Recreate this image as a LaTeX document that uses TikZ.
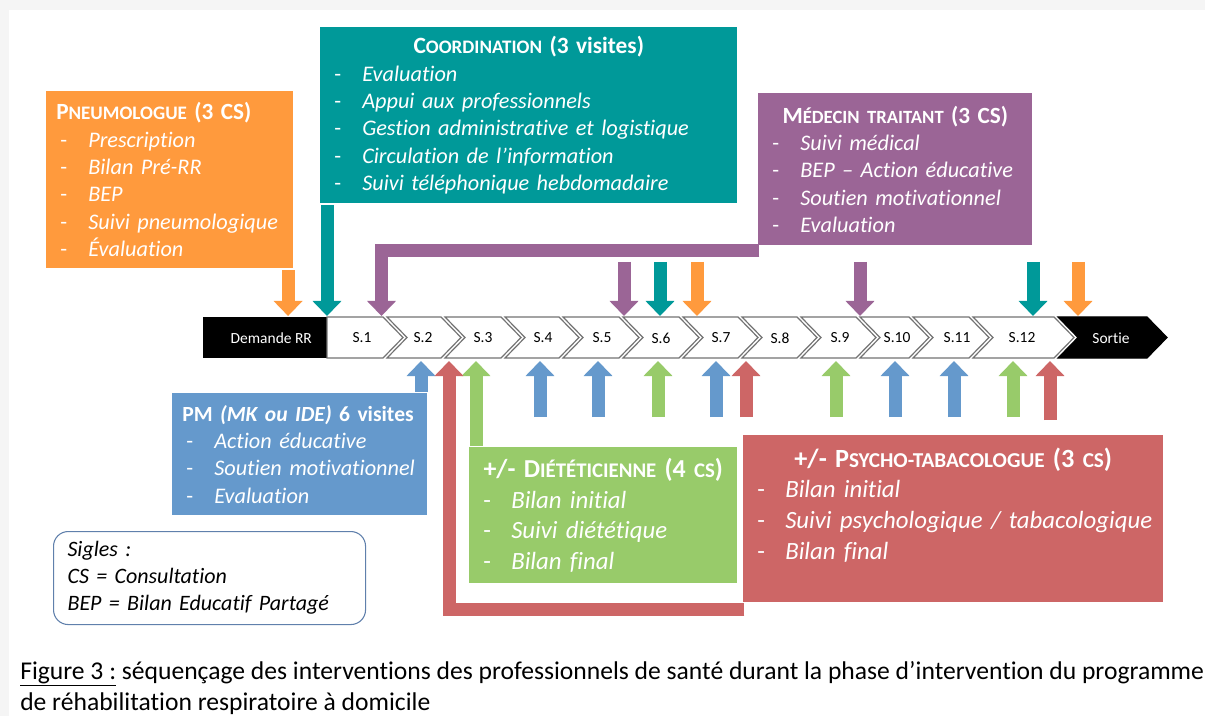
\documentclass[tikz,border=0pt]{standalone}
\usepackage{fontspec}
\setmainfont{Carlito}[Ligatures=NoCommon]
\usetikzlibrary{arrows.meta}

\definecolor{orng}{RGB}{255,154,61}
\definecolor{tealc}{RGB}{0,153,153}
\definecolor{mauve}{RGB}{155,101,150}
\definecolor{bleu}{RGB}{101,153,204}
\definecolor{vert}{RGB}{152,203,106}
\definecolor{rouge}{RGB}{205,102,102}
\definecolor{fond}{RGB}{245,245,245}
\definecolor{cadre}{RGB}{96,128,172}

\newcommand{\itm}{\makebox[24pt][l]{\hspace{3pt}-}}
\newcommand{\psc}[3][13]{#2{\fontsize{#1}{12}\selectfont#3}}

\begin{document}
\begin{tikzpicture}[x=0.75pt,y=0.75pt,yscale=-1,xscale=1,
  box/.style={anchor=north west, inner xsep=7.5pt, inner ysep=0pt, align=left, text=white, font=\fontsize{16.7}{20.5}\selectfont},
  arr/.style={line width=9.75pt, -{Triangle[width=21pt,length=11.25pt]}},
  chev/.style={draw=black!55, line width=0.9pt, fill=white},
  slab/.style={font=\fontsize{11.6}{13}\selectfont, inner sep=0pt}]
	\useasboundingbox (0,0) rectangle (1205,716);
	\fill[fond] (0,0) rectangle (1205,716);
	\fill[white] (9,10) rectangle (1205,716);

	% Text Node
	\node[box, fill=orng, minimum width=185.25pt, minimum height=132.75pt, text width=170.25pt] (pneumo) at (46,91) {{\fontsize{17.4}{20}\selectfont\bfseries\psc[14.3]{P}{NEUMOLOGUE} (3 CS)}\\
		\itm\textit{Prescription}\\
		\itm\textit{Bilan Pré-RR}\\
		\itm\textit{BEP}\\
		\itm\textit{Suivi pneumologique}\\
		\itm\textit{Évaluation}};
	% Text Node
	\node[box, fill=tealc, minimum width=312.75pt, minimum height=132pt, text width=297.75pt] (coord) at (320,27) {\makebox[\hsize]{\fontsize{17.5}{20}\selectfont\bfseries\psc[14.3]{C}{OORDINATION} (3 visites)}\\
		\itm\textit{Evaluation}\\
		\itm\textit{Appui aux professionnels}\\
		\itm\textit{Gestion administrative et logistique}\\
		\itm\textit{Circulation de l’information}\\
		\itm\textit{Suivi téléphonique hebdomadaire}};
	% Text Node
	\node[box, fill=mauve, minimum width=205.5pt, minimum height=114pt, text width=190.5pt] (med) at (758,93) {\makebox[\hsize]{\fontsize{17.4}{20}\selectfont\bfseries\psc[14]{M}{ÉDECIN TRAITANT} (3 CS)}\\
		\itm\textit{Suivi médical}\\
		\itm\textit{BEP – Action éducative}\\
		\itm\textit{Soutien motivationnel}\\
		\itm\textit{Evaluation}};
	% Text Node
	\node[box, fill=bleu, minimum width=191.25pt, minimum height=91.5pt, text width=176.25pt] (pm) at (172,393) {{\fontsize{16.2}{20}\selectfont\bfseries PM \textit{(MK ou IDE)} 6 visites}\\
		\itm\textit{Action éducative}\\
		\itm\textit{Soutien motivationnel}\\
		\itm\textit{Evaluation}};
	% Text Node
	\node[box, fill=vert, minimum width=201pt, minimum height=102pt, text width=186pt, font=\fontsize{18.6}{23}\selectfont] (diet) at (469,447) {\makebox[\hsize]{\fontsize{19.4}{23}\selectfont\bfseries +/- \psc[15.6]{D}{IÉTÉTICIENNE} (4 \psc[15.6]{}{CS})}\\
		\itm\textit{Bilan initial}\\
		\itm\textit{Suivi diététique}\\
		\itm\textit{Bilan final}};
	% Text Node
	\node[box, fill=rouge, minimum width=315pt, minimum height=125.25pt, text width=300pt, font=\fontsize{18.6}{23}\selectfont] (psy) at (743,435) {\makebox[\hsize]{\fontsize{19.7}{23}\selectfont\bfseries +/- \psc[15.9]{P}{SYCHO-TABACOLOGUE} (3 \psc[15.9]{}{CS})}\\
		\itm\textit{Bilan initial}\\
		\itm\textit{Suivi psychologique / tabacologique}\\
		\itm\textit{Bilan final}\\ \mbox{}};
	% Text Node
	\node[anchor=north west, draw=cadre, rounded corners=11pt, line width=0.8pt, minimum width=234pt, minimum height=69.75pt, inner xsep=10.5pt, text width=213pt, align=left, font=\fontsize{16.5}{20.25}\selectfont\itshape] (sigles) at (53,531) {Sigles :\\CS = Consultation\\BEP = Bilan Educatif Partagé};

	%Shape: Chevrons
	\node[fill=black, text=white, anchor=north west, minimum width=93pt, minimum height=30.75pt, slab] (dem) at (203,317) {\hspace{9pt}Demande RR};
	\draw[chev] (327,317) -- (383,317) -- (403,337.5) -- (383,358) -- (327,358) -- cycle ;
	\draw[chev] (387,317) -- (441,317) -- (461,337.5) -- (441,358) -- (387,358) -- (407,337.5) -- cycle ;
	\draw[chev] (445,317) -- (501,317) -- (521,337.5) -- (501,358) -- (445,358) -- (465,337.5) -- cycle ;
	\draw[chev] (505,317) -- (559,317) -- (579,337.5) -- (559,358) -- (505,358) -- (525,337.5) -- cycle ;
	\draw[chev] (563,317) -- (619,317) -- (639,337.5) -- (619,358) -- (563,358) -- (583,337.5) -- cycle ;
	\draw[chev] (623,317) -- (679,317) -- (699,337.5) -- (679,358) -- (623,358) -- (643,337.5) -- cycle ;
	\draw[chev] (683,317) -- (738,317) -- (758,337.5) -- (738,358) -- (683,358) -- (703,337.5) -- cycle ;
	\draw[chev] (742,317) -- (797,317) -- (817,337.5) -- (797,358) -- (742,358) -- (762,337.5) -- cycle ;
	\draw[chev] (801,317) -- (856,317) -- (876,337.5) -- (856,358) -- (801,358) -- (821,337.5) -- cycle ;
	\draw[chev] (860,317) -- (909,317) -- (929,337.5) -- (909,358) -- (860,358) -- (880,337.5) -- cycle ;
	\draw[chev] (913,317) -- (969,317) -- (989,337.5) -- (969,358) -- (913,358) -- (933,337.5) -- cycle ;
	\draw[chev] (973,317) -- (1054,317) -- (1074,337.5) -- (1054,358) -- (973,358) -- (993,337.5) -- cycle ;
	\draw[chev, fill=black, draw=black] (1058,317) -- (1147,317) -- (1167,337.5) -- (1147,358) -- (1058,358) -- (1078,337.5) -- cycle ;

	% Text Node
	\node[slab] (s1) at (362,338) {S.1};
	\node[slab] (s2) at (423,338) {S.2};
	\node[slab] (s3) at (483,338) {S.3};
	\node[slab] (s4) at (543,338) {S.4};
	\node[slab] (s5) at (602,338) {S.5};
	\node[slab] (s6) at (661,338) {S.6};
	\node[slab] (s7) at (721,338) {S.7};
	\node[slab] (s8) at (780,338) {S.8};
	\node[slab] (s9) at (840,338) {S.9};
	\node[slab] (s10) at (897,338) {S.10};
	\node[slab] (s11) at (957,338) {S.11};
	\node[slab] (s12) at (1022,338) {S.12};
	\node[slab, text=white] (sortie) at (1111,338) {Sortie};

	% levels of the arrow tips
	\coordinate (top) at (0,316);
	\coordinate (bot) at (0,361);

	%Block Arrows from the boxes
	\coordinate (pn0) at ([xshift=-4.1pt,yshift=1pt]pneumo.south east);
	\draw[arr, orng] (pn0) -- (pn0 |- top);
	\coordinate (co0) at ([xshift=5.25pt,yshift=1pt]coord.south west);
	\draw[arr, tealc] (co0) -- (co0 |- top);
	\coordinate (mt0) at ([xshift=1pt,yshift=3.75pt]med.south west);
	\coordinate (mtx) at (381.5,0);
	\draw[arr, mauve] (mt0) -| (mtx |- top);
	\coordinate (pm0) at ([xshift=-4.9pt,yshift=-1pt]pm.north east);
	\draw[arr, bleu] (pm0) -- (pm0 |- bot);
	\coordinate (di0) at ([xshift=5.25pt,yshift=-1pt]diet.north west);
	\draw[arr, vert] (di0) -- (di0 |- bot);
	\coordinate (ps0) at ([xshift=1pt,yshift=5.25pt]psy.south west);
	\coordinate (psx) at (449,0);
	\draw[arr, rouge] (ps0) -| (psx |- bot);

	%Block Arrows, free
	\coordinate (mt6) at (624,262);
	\coordinate (co6) at (660,262);
	\coordinate (pn7) at (697,262);
	\coordinate (mt9) at (860,262);
	\coordinate (co12) at (1033,262);
	\coordinate (pn13) at (1078,262);
	\draw[arr, mauve] (mt6) -- (mt6 |- top);
	\draw[arr, tealc] (co6) -- (co6 |- top);
	\draw[arr, orng] (pn7) -- (pn7 |- top);
	\draw[arr, mauve] (mt9) -- (mt9 |- top);
	\draw[arr, tealc] (co12) -- (co12 |- top);
	\draw[arr, orng] (pn13) -- (pn13 |- top);

	\coordinate (pm4) at (540,417);
	\coordinate (pm5) at (598,417);
	\coordinate (di6) at (658,417);
	\coordinate (pm7) at (716,417);
	\coordinate (ps7) at (746,417);
	\coordinate (di9) at (836,417);
	\coordinate (pm10) at (895,417);
	\coordinate (pm11) at (954,417);
	\coordinate (di12) at (1013,417);
	\coordinate (ps12) at (1050,420);
	\draw[arr, bleu] (pm4) -- (pm4 |- bot);
	\draw[arr, bleu] (pm5) -- (pm5 |- bot);
	\draw[arr, vert] (di6) -- (di6 |- bot);
	\draw[arr, bleu] (pm7) -- (pm7 |- bot);
	\draw[arr, rouge] (ps7) -- (ps7 |- bot);
	\draw[arr, vert] (di9) -- (di9 |- bot);
	\draw[arr, bleu] (pm10) -- (pm10 |- bot);
	\draw[arr, bleu] (pm11) -- (pm11 |- bot);
	\draw[arr, vert] (di12) -- (di12 |- bot);
	\draw[arr, rouge] (ps12) -- (ps12 |- bot);

	% Text Node
	\node[anchor=base west, inner sep=0pt, font=\fontsize{19.2}{20}\selectfont] (cap1) at (20,679) {\underline{Figure 3 :} séquençage des interventions des professionnels de santé durant la phase d’intervention du programme};
	% Text Node
	\node[anchor=base west, inner sep=0pt, font=\fontsize{19.2}{20}\selectfont] (cap2) at (20,710) {de réhabilitation respiratoire à domicile};
\end{tikzpicture}
\end{document}
